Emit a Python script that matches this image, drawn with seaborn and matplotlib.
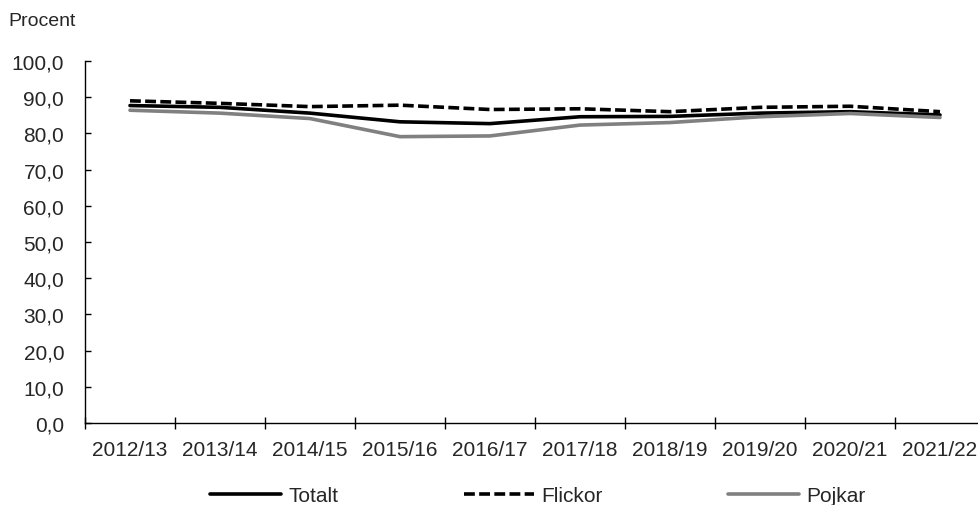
import matplotlib
matplotlib.use("Agg")
import matplotlib.pyplot as plt
import seaborn as sns
import pandas as pd

years = ["2012/13", "2013/14", "2014/15", "2015/16", "2016/17",
         "2017/18", "2018/19", "2019/20", "2020/21", "2021/22"]
totalt = [87.7, 87.2, 85.6, 83.2, 82.7, 84.6, 84.7, 85.6, 86.0, 85.1]
flickor = [89.0, 88.3, 87.4, 87.8, 86.6, 86.8, 86.0, 87.2, 87.5, 86.0]
pojkar = [86.4, 85.6, 84.1, 79.1, 79.3, 82.3, 83.0, 84.6, 85.5, 84.4]

df = pd.DataFrame({
    "År": years * 3,
    "Procent": totalt + flickor + pojkar,
    "Grupp": ["Totalt"] * 10 + ["Flickor"] * 10 + ["Pojkar"] * 10,
})
df["x"] = df["År"].map({y: i for i, y in enumerate(years)})

sns.set_theme(style="white")
plt.rcParams['font.family'] = ['Liberation Sans', 'DejaVu Sans']

FS = 15
DASH = (3.0, 1.2)
fig = plt.figure(figsize=(9.79, 5.06), dpi=100)
ax = fig.add_axes([85 / 979, (506 - 424) / 506, 900 / 979, 362 / 506])

sns.lineplot(data=df, x="x", y="Procent", hue="Grupp", style="Grupp",
             palette={"Totalt": "black", "Flickor": "black", "Pojkar": "#808080"},
             dashes={"Totalt": "", "Flickor": DASH, "Pojkar": ""},
             linewidth=2.6, ax=ax, legend=False)

ax.set_xlim(-0.5, 9.5)
ax.set_ylim(0, 100)
ax.set_yticks(range(0, 101, 10))
ax.set_yticklabels([f"{v},0" for v in range(0, 101, 10)], fontsize=FS)
ax.set_xticks(range(10))
ax.set_xticklabels(years, fontsize=FS)
ax.set_xticks([i - 0.5 for i in range(11)], minor=True)
ax.tick_params(axis="x", which="major", bottom=True, length=0, pad=12)
ax.tick_params(axis="x", which="minor", bottom=True, length=9, direction="inout",
               color="black", width=1)
ax.tick_params(axis="y", left=True, length=4, direction="in", color="black",
               width=1, pad=15)
ax.set_xlabel("")
ax.set_ylabel("")
for s in ["top", "right"]:
    ax.spines[s].set_visible(False)
for s in ["left", "bottom"]:
    ax.spines[s].set_color("black")
    ax.spines[s].set_linewidth(1)
ax.grid(False)

fig.text(8 / 979, 1 - 22 / 506, "Procent", fontsize=14, va="center", ha="left")

from matplotlib.lines import Line2D
handles = [
    Line2D([], [], color="black", lw=2.6),
    Line2D([], [], color="black", lw=2.6, ls=(0, DASH)),
    Line2D([], [], color="#808080", lw=2.6),
]
fig.legend(handles, ["Totalt", "Flickor", "Pojkar"], loc="center",
           bbox_to_anchor=(538 / 979, 1 - 497 / 506), ncol=3, frameon=False,
           fontsize=FS, handlelength=3.4, handletextpad=0.35, columnspacing=6.0,
           borderpad=0, borderaxespad=0)

fig.savefig("out.png", dpi=100)
